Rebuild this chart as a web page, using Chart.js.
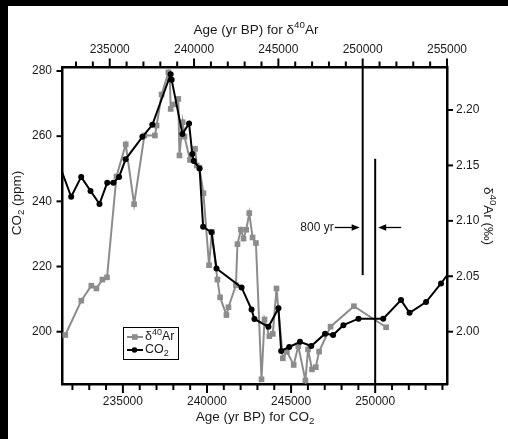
<!DOCTYPE html>
<html>
<head>
<meta charset="utf-8">
<script src="https://cdn.jsdelivr.net/npm/chart.js@4.4.0/dist/chart.umd.min.js"></script>
<style>
  html, body { margin: 0; padding: 0; background: #000; }
  #wrap { position: absolute; left: 0; top: 0; width: 508px; height: 439px; }
</style>
</head>
<body>
<div id="wrap"><canvas id="chart" width="508" height="439"></canvas></div>
<script>
'use strict';

// CO2 record (bottom age axis, left ppm axis)
const co2Age = [231150, 231925, 232520, 233075, 233610, 234070, 234435, 234775, 235160, 236160,
  236750, 237840, 237900, 238540, 238935, 239125, 239215, 239560, 239770, 240270,
  240565, 242055, 242650, 242820, 243655, 244250, 244410, 244890, 245530, 246200,
  247020, 247500, 248110, 249005, 250480, 251535, 252045, 253025, 253915, 254400];
const co2Ppm = [252.3, 241.4, 247.5, 243.2, 239.2, 245.7, 245.7, 247.5, 252.9, 259.8,
  263.5, 279.0, 277.3, 260.7, 263.9, 254.5, 252.4, 250.1, 232.2, 230.5,
  219.4, 213.6, 206.8, 203.9, 201.5, 207.2, 194.1, 195.3, 196.9, 195.6,
  199.4, 199.0, 202.0, 204.0, 204.0, 209.7, 205.8, 209.1, 214.8, 218.2];

// d40Ar record (top age axis, right permil axis)
const arAge = [232365, 233315, 233910, 234210, 234565, 234840, 235400, 235950, 236445, 237055,
  237680, 237780, 238075, 238480, 238570, 238615, 238770, 239065, 239135, 239325,
  239435, 239760, 240060, 240160, 240315, 240555, 240890, 241055, 241385, 241545,
  241920, 242040, 242485, 242575, 242780, 242935, 243095, 243275, 243470, 243670,
  244000, 244180, 244465, 244670, 244890, 245265, 245505, 245910, 246180, 246605,
  246760, 246995, 247220, 247415, 248095, 249480, 251390];
const arPermil = [1.997, 2.028, 2.0415, 2.039, 2.047, 2.049, 2.140, 2.169, 2.115, 2.177,
  2.177, 2.186, 2.214, 2.234, 2.227, 2.201, 2.205, 2.210, 2.159, 2.189,
  2.176, 2.155, 2.165, 2.150, 2.148, 2.125, 2.060, 2.090, 2.047, 2.031,
  2.015, 2.022, 2.042, 2.079, 2.092, 2.084, 2.092, 2.107, 2.085, 2.080,
  1.957, 2.011, 1.996, 1.998, 2.039, 1.976, 1.982, 1.970, 1.987, 1.956,
  1.984, 1.966, 1.968, 1.982, 2.0045, 2.023, 2.004];

// tick labels
const co2AgeTicks = [235000, 240000, 245000, 250000];
const arAgeTicks = [235000, 240000, 245000, 250000, 255000];
const ppmTicks = [200, 220, 240, 260, 280];
const arTicks = [2.00, 2.05, 2.10, 2.15, 2.20];
const ageMajorStep = 5000;
const ageMinorStep = 1000;

// 800 yr lag marker: same age on both axes
const lagAge = 250000;
const lagLabel = '800 yr';
const lagTopEnd = 2.051;      // d40Ar value where the top-axis line stops
const lagBottomStart = 2.156; // d40Ar value where the bottom-axis line starts
const lagArrowAt = 2.094;

const FONT = '"Liberation Sans", Arial, Helvetica, sans-serif';
const INK = '#1a1a1a';
const GREY = '#8c8c8c';

function drawRich(ctx, parts, x, y, size, align) {
  const small = size * 0.72;
  let w = 0;
  parts.forEach(p => {
    ctx.font = (p.sup || p.sub ? small : size) + 'px ' + FONT;
    w += ctx.measureText(p.t).width;
  });
  let cx = align === 'center' ? x - w / 2 : (align === 'right' ? x - w : x);
  ctx.textAlign = 'left';
  ctx.textBaseline = 'middle';
  parts.forEach(p => {
    ctx.font = (p.sup || p.sub ? small : size) + 'px ' + FONT;
    const dy = p.sup ? -size * 0.38 : (p.sub ? size * 0.3 : 0);
    ctx.fillText(p.t, cx, y + dy);
    cx += ctx.measureText(p.t).width;
  });
}

function arrow(ctx, x1, x2, y) {
  const dir = Math.sign(x2 - x1);
  ctx.beginPath();
  ctx.moveTo(x1, y);
  ctx.lineTo(x2 - dir * 6, y);
  ctx.stroke();
  ctx.beginPath();
  ctx.moveTo(x2, y);
  ctx.lineTo(x2 - dir * 8, y - 3.2);
  ctx.lineTo(x2 - dir * 8, y + 3.2);
  ctx.closePath();
  ctx.fill();
}

const useTicks = list => s => { s.ticks = list.map(v => ({value: v})); };

const extras = {
  id: 'extras',
  beforeDraw(chart) {
    const ctx = chart.ctx;
    ctx.save();
    ctx.fillStyle = '#fff';
    ctx.fillRect(8, 6, 500, 433);
    ctx.restore();
  },
  afterDraw(chart) {
    const ctx = chart.ctx;
    const {x, x2, y, y2} = chart.scales;
    const area = chart.chartArea;
    ctx.save();
    ctx.strokeStyle = '#000';
    ctx.fillStyle = '#000';
    ctx.lineWidth = 2;

    // age axis ticks, long on the 5000s
    for (let v = Math.ceil(x.min / ageMinorStep) * ageMinorStep; v <= x.max; v += ageMinorStep) {
      const px = x.getPixelForValue(v);
      const len = v % ageMajorStep === 0 ? 9 : 6;
      ctx.beginPath(); ctx.moveTo(px, area.bottom); ctx.lineTo(px, area.bottom + len); ctx.stroke();
    }
    for (let v = Math.ceil(x2.min / ageMinorStep) * ageMinorStep; v <= x2.max; v += ageMinorStep) {
      const px = x2.getPixelForValue(v);
      const len = v % ageMajorStep === 0 ? 8.5 : 5.5;
      ctx.beginPath(); ctx.moveTo(px, area.top); ctx.lineTo(px, area.top - len); ctx.stroke();
    }
    y.ticks.forEach(t => {
      const py = y.getPixelForValue(t.value);
      ctx.beginPath(); ctx.moveTo(area.left, py); ctx.lineTo(area.left - 5.5, py); ctx.stroke();
    });
    y2.ticks.forEach(t => {
      const py = y2.getPixelForValue(t.value);
      ctx.beginPath(); ctx.moveTo(area.right, py); ctx.lineTo(area.right + 6, py); ctx.stroke();
    });

    // lag lines and arrows
    const xa = x2.getPixelForValue(lagAge);
    const xb = x.getPixelForValue(lagAge);
    ctx.lineWidth = 2;
    ctx.beginPath(); ctx.moveTo(xa, area.top); ctx.lineTo(xa, y2.getPixelForValue(lagTopEnd)); ctx.stroke();
    ctx.beginPath(); ctx.moveTo(xb, y2.getPixelForValue(lagBottomStart)); ctx.lineTo(xb, area.bottom); ctx.stroke();
    const ya = y2.getPixelForValue(lagArrowAt);
    ctx.lineWidth = 1.3;
    arrow(ctx, xa - 28, xa - 3, ya);
    arrow(ctx, xb + 26, xb + 3, ya);
    ctx.fillStyle = INK;
    ctx.font = '12px ' + FONT;
    ctx.textAlign = 'right';
    ctx.textBaseline = 'middle';
    ctx.fillText(lagLabel, xa - 29, ya);

    // axis titles
    ctx.fillStyle = INK;
    drawRich(ctx, [{t: 'Age (yr BP) for δ'}, {t: '40', sup: true}, {t: 'Ar'}], 256, 30, 13.5, 'center');
    drawRich(ctx, [{t: 'Age (yr BP) for CO'}, {t: '2', sub: true}], 255, 417, 13.5, 'center');
    ctx.save();
    ctx.translate(17, 203);
    ctx.rotate(-Math.PI / 2);
    drawRich(ctx, [{t: 'CO'}, {t: '2', sub: true}, {t: ' (ppm)'}], 0, 0, 13.5, 'center');
    ctx.restore();
    ctx.save();
    ctx.translate(488, 216);
    ctx.rotate(Math.PI / 2);
    drawRich(ctx, [{t: 'δ'}, {t: '40', sup: true}, {t: 'Ar (‰)'}], 0, 0, 13.5, 'center');
    ctx.restore();

    // legend box
    ctx.lineWidth = 1;
    ctx.strokeStyle = '#000';
    ctx.strokeRect(123.5, 327.5, 55, 32);
    const rows = [
      {ds: chart.data.datasets[1], y: 337, parts: [{t: 'δ'}, {t: '40', sup: true}, {t: 'Ar'}]},
      {ds: chart.data.datasets[0], y: 350, parts: [{t: 'CO'}, {t: '2', sub: true}]}
    ];
    rows.forEach(r => {
      ctx.strokeStyle = r.ds.borderColor;
      ctx.fillStyle = r.ds.borderColor;
      ctx.lineWidth = 2;
      ctx.beginPath(); ctx.moveTo(127, r.y); ctx.lineTo(143, r.y); ctx.stroke();
      if (r.ds.pointStyle === 'rect') {
        ctx.fillRect(132, r.y - 2.8, 5.6, 5.6);
      } else {
        ctx.beginPath(); ctx.arc(134.5, r.y, 2.8, 0, Math.PI * 2); ctx.fill();
      }
      ctx.fillStyle = INK;
      drawRich(ctx, r.parts, 145, r.y, 12.5, 'left');
    });
    ctx.restore();
  }
};

const tickFont = {family: FONT, size: 12};

new Chart(document.getElementById('chart'), {
  type: 'line',
  data: {
    datasets: [{
      label: 'CO2',
      data: co2Age.map((a, i) => ({x: a, y: co2Ppm[i]})),
      xAxisID: 'x',
      yAxisID: 'y',
      borderColor: '#000',
      backgroundColor: '#000',
      borderWidth: 2,
      pointStyle: 'circle',
      pointRadius: 3,
      pointBorderWidth: 0,
      pointBackgroundColor: '#000',
      tension: 0
    }, {
      label: 'd40Ar',
      data: arAge.map((a, i) => ({x: a, y: arPermil[i]})),
      xAxisID: 'x2',
      yAxisID: 'y2',
      borderColor: GREY,
      backgroundColor: GREY,
      borderWidth: 2,
      pointStyle: 'rect',
      pointRadius: 4,
      pointBorderWidth: 0,
      pointBackgroundColor: GREY,
      tension: 0
    }]
  },
  options: {
    responsive: false,
    animation: false,
    devicePixelRatio: 1,
    layout: {padding: 0},
    plugins: {legend: {display: false}, tooltip: {enabled: false}},
    scales: {
      x: {
        type: 'linear', position: 'bottom', min: 231380, max: 254270,
        afterBuildTicks: useTicks(co2AgeTicks),
        ticks: {callback: v => String(v), padding: 10.5, font: tickFont, color: INK, maxRotation: 0, autoSkip: false},
        grid: {drawOnChartArea: false, drawTicks: false},
        border: {color: '#000', width: 2.5},
        afterFit: s => { s.height = 55; }
      },
      x2: {
        type: 'linear', position: 'top', min: 232170, max: 255000,
        afterBuildTicks: useTicks(arAgeTicks),
        ticks: {callback: v => String(v), padding: 10, font: tickFont, color: INK, maxRotation: 0, autoSkip: false},
        grid: {drawOnChartArea: false, drawTicks: false},
        border: {color: '#000', width: 2.5},
        afterFit: s => { s.height = 67; }
      },
      y: {
        type: 'linear', position: 'left', min: 183.95, max: 281.23,
        afterBuildTicks: useTicks(ppmTicks),
        ticks: {callback: v => String(v), padding: 10, font: tickFont, color: INK},
        grid: {drawOnChartArea: false, drawTicks: false},
        border: {color: '#000', width: 2.5},
        afterFit: s => { s.width = 62; }
      },
      y2: {
        type: 'linear', position: 'right', min: 1.9528, max: 2.2388,
        afterBuildTicks: useTicks(arTicks),
        ticks: {callback: v => v.toFixed(2), padding: 9, font: tickFont, color: INK},
        grid: {drawOnChartArea: false, drawTicks: false},
        border: {color: '#000', width: 2.5},
        afterFit: s => { s.width = 61; }
      }
    }
  },
  plugins: [extras]
});
</script>
</body>
</html>
